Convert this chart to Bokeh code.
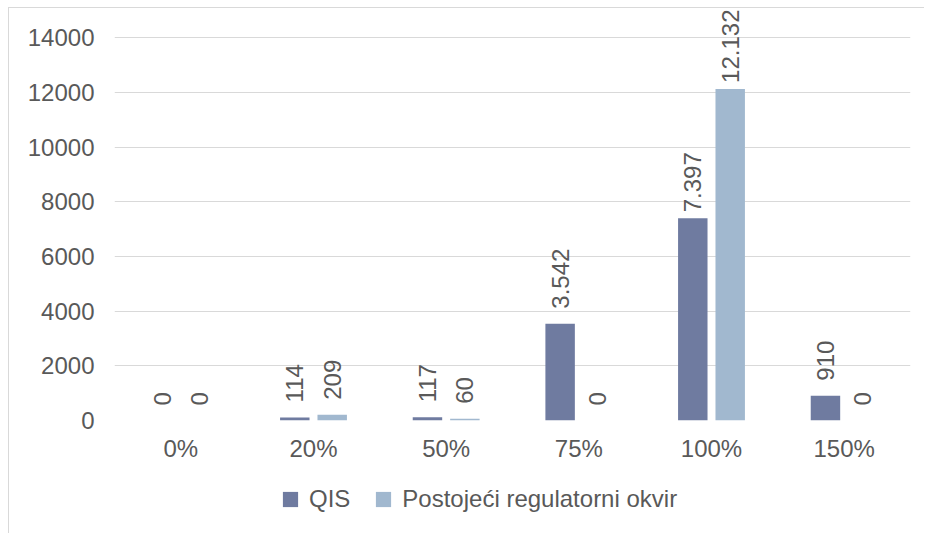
import math
from bokeh.plotting import figure
from bokeh.layouts import column
from bokeh.models import ColumnDataSource, FactorRange, FixedTicker, Legend, LegendItem, Range1d
from bokeh.transform import dodge
from bokeh.core.properties import value
from bokeh.embed import file_html
from bokeh.resources import INLINE

categories = ["0%", "20%", "50%", "75%", "100%", "150%"]
qis = [0, 114, 117, 3542, 7397, 910]
postojeci = [0, 209, 60, 0, 12132, 0]
series_names = ["QIS", "Postojeći regulatorni okvir"]
y_ticks = [0, 2000, 4000, 6000, 8000, 10000, 12000, 14000]

QIS_COLOR = "#6F7BA0"
POST_COLOR = "#A1B8CF"
TEXT = "#595959"
GRID = "#D9D9D9"
FONT = "Liberation Sans"
FS = "24px"


def fmt(v):
    return f"{v:,}".replace(",", ".")


def offsets(vals):
    return [-6 if v > 7000 else -15 for v in vals]


src = ColumnDataSource(dict(
    cat=categories,
    qis=qis,
    post=postojeci,
    qis_lbl=[fmt(v) for v in qis],
    post_lbl=[fmt(v) for v in postojeci],
    qis_off=offsets(qis),
    post_off=offsets(postojeci),
))

p = figure(
    x_range=FactorRange(*categories),
    y_range=Range1d(0, 15000),
    width=916, height=462,
    output_backend="svg", toolbar_location=None,
    min_border_left=105, min_border_right=15, min_border_top=2, min_border_bottom=50,
)
p.margin = (7, 0, 0, 8)
p.styles = {"border-left": "1px solid #D9D9D9", "border-top": "1px solid #D9D9D9"}
p.outline_line_color = None
p.background_fill_color = "white"
p.border_fill_color = "white"

off = 0.141
w = 0.222
p.vbar(x=dodge("cat", -off, range=p.x_range), top="qis", width=w, source=src,
       fill_color=QIS_COLOR, line_color=None)
p.vbar(x=dodge("cat", off, range=p.x_range), top="post", width=w, source=src,
       fill_color=POST_COLOR, line_color=None)

for xo, col, lbl, oc in [(-off, "qis", "qis_lbl", "qis_off"), (off, "post", "post_lbl", "post_off")]:
    p.text(x=dodge("cat", xo, range=p.x_range), y=col, text=lbl, source=src,
           angle=math.pi / 2, text_align="left", text_baseline="middle",
           y_offset=oc, text_font=value(FONT), text_font_size=FS, text_color=TEXT)

p.xgrid.grid_line_color = None
p.ygrid.grid_line_color = GRID
p.ygrid.grid_line_width = 1
p.ygrid.ticker = FixedTicker(ticks=y_ticks)

p.yaxis.ticker = FixedTicker(ticks=y_ticks)
for ax in (p.xaxis[0], p.yaxis[0]):
    ax.axis_line_color = None
    ax.major_tick_line_color = None
    ax.minor_tick_line_color = None
    ax.major_tick_out = 0
    ax.major_tick_in = 0
    ax.major_label_text_font = FONT
    ax.major_label_text_font_size = FS
    ax.major_label_text_color = TEXT
p.yaxis.major_label_standoff = 20
p.xaxis.major_label_standoff = 14

# legend strip (frame aligned with the chart frame by the column layout)
p2 = figure(
    x_range=FactorRange(*categories), y_range=Range1d(0, 1),
    width=916, height=64,
    output_backend="svg", toolbar_location=None,
    x_axis_location=None, y_axis_location=None,
    min_border=0,
)
p2.margin = (0, 0, 0, 8)
p2.styles = {"border-left": "1px solid #D9D9D9"}
p2.outline_line_color = None
p2.grid.grid_line_color = None
p2.border_fill_color = "white"
l1 = p2.scatter(x=dodge("cat", -off, range=p2.x_range), y="qis", source=src, marker="square",
                fill_color=QIS_COLOR, line_color=None, visible=False)
l2 = p2.scatter(x=dodge("cat", off, range=p2.x_range), y="post", source=src, marker="square",
                fill_color=POST_COLOR, line_color=None, visible=False)

legend = Legend(
    items=[LegendItem(label=series_names[0], renderers=[l1]),
           LegendItem(label=series_names[1], renderers=[l2])],
    orientation="horizontal",
    location=(157, 15),
    glyph_width=38, glyph_height=38,
    label_standoff=0, spacing=14, padding=0, margin=0,
    label_text_font=FONT, label_text_font_size=FS, label_text_color=TEXT,
    border_line_color=None, background_fill_alpha=0,
    inactive_fill_alpha=0,
)
p2.add_layout(legend, "center")

layout = column(p, p2, spacing=0)
open("out.html", "w").write(file_html(layout, INLINE))
